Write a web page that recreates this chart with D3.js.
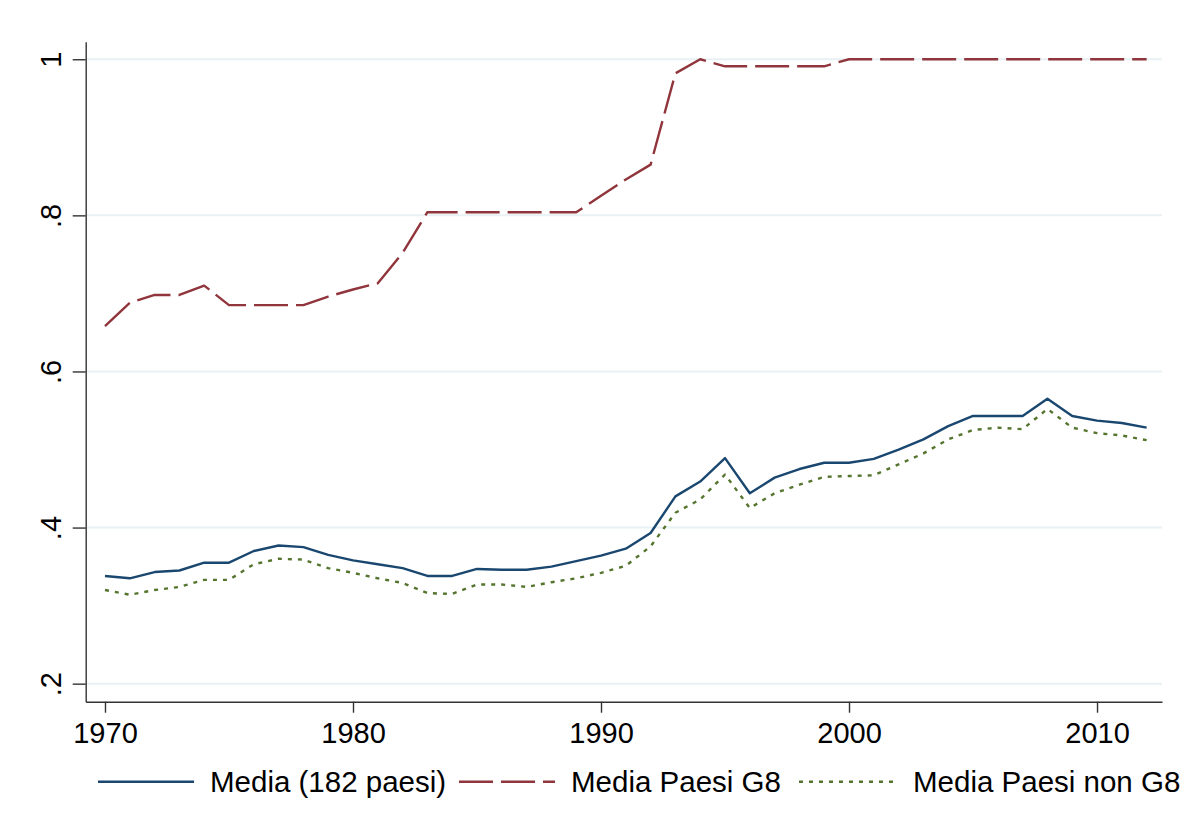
<!DOCTYPE html>
<html lang="it">
<head>
  <meta charset="UTF-8">
  <title>Media paesi G8 / non G8</title>
  <script src="https://d3js.org/d3.v7.min.js"></script>
  <style>
    body { margin: 0; background: #fff; }
    svg { display: block; font-family: "Liberation Sans", Arial, sans-serif; }
  </style>
</head>
<body>
  <div id="chart"></div>
  <script>
    // years and series
    const years = d3.range(1970, 2013);
    const mediaAll = [
      0.338, 0.335, 0.343, 0.345, 0.355, 0.355, 0.370, 0.377, 0.375, 0.365,
      0.358, 0.353, 0.348, 0.338, 0.338, 0.347, 0.346, 0.346, 0.350, 0.357,
      0.364, 0.373, 0.393, 0.440, 0.459, 0.489, 0.444, 0.464, 0.475, 0.483,
      0.483, 0.488, 0.500, 0.513, 0.530, 0.543, 0.543, 0.543, 0.565, 0.543,
      0.537, 0.534, 0.528
    ];
    const mediaG8 = [
      0.658, 0.688, 0.698, 0.698, 0.710, 0.685, 0.685, 0.685, 0.685, 0.696,
      0.705, 0.713, 0.752, 0.804, 0.804, 0.804, 0.804, 0.804, 0.804, 0.804,
      0.825, 0.846, 0.865, 0.982, 1.000, 0.991, 0.991, 0.991, 0.991, 0.991,
      1.000, 1.000, 1.000, 1.000, 1.000, 1.000, 1.000, 1.000, 1.000, 1.000,
      1.000, 1.000, 1.000
    ];
    const mediaNonG8 = [
      0.320, 0.314, 0.320, 0.324, 0.333, 0.333, 0.353, 0.360, 0.359, 0.348,
      0.342, 0.335, 0.329, 0.316, 0.315, 0.327, 0.327, 0.324, 0.330, 0.335,
      0.342, 0.351, 0.376, 0.419, 0.436, 0.468, 0.425, 0.444, 0.455, 0.465,
      0.466, 0.467, 0.481, 0.495, 0.513, 0.525, 0.528, 0.526, 0.552, 0.528,
      0.521, 0.518, 0.512
    ];
    const xTicks = [1970, 1980, 1990, 2000, 2010];
    const yTicks = [0.2, 0.4, 0.6, 0.8, 1];
    const seriesNames = ["Media (182 paesi)", "Media Paesi G8", "Media Paesi non G8"];

    const width = 1187, height = 832;
    const series = [
      { name: seriesNames[0], values: mediaAll, color: "#1a476f", dash: null },
      { name: seriesNames[1], values: mediaG8, color: "#90353b", dash: "34,8" },
      { name: seriesNames[2], values: mediaNonG8, color: "#55752f", dash: "4,6" }
    ];

    const svg = d3.select("#chart").append("svg")
      .attr("width", width).attr("height", height);

    // plot region: left 85.7 .. right 1162, top 41.7 .. bottom 701.7
    const x = d3.scaleLinear().domain([1969.222, 2012.62]).range([85.7, 1162]);
    const y = d3.scaleLinear().domain([0.1769, 1.0225]).range([701.7, 41.7]);

    // grid
    svg.append("g").selectAll("line").data(yTicks).join("line")
      .attr("x1", x.range()[0]).attr("x2", x.range()[1])
      .attr("y1", d => y(d)).attr("y2", d => y(d))
      .attr("stroke", "#e8f1f3").attr("stroke-width", 2);

    // y axis
    const yAxis = svg.append("g")
      .attr("transform", `translate(${x.range()[0]},0)`)
      .call(d3.axisLeft(y).tickValues(yTicks).tickSizeOuter(0).tickSizeInner(13)
        .tickFormat(d => d === 1 ? "1" : String(d).replace("0.", ".")));
    yAxis.selectAll("path, line").attr("stroke", "#333").attr("stroke-width", 1.4);
    yAxis.selectAll("text")
      .attr("x", null).attr("dy", null)
      .attr("transform", "translate(-25,0) rotate(-90)")
      .attr("text-anchor", "middle")
      .attr("fill", "#000")
      .style("font-size", "29px");

    // x axis
    const xAxis = svg.append("g")
      .attr("transform", `translate(0,${y.range()[0]})`)
      .call(d3.axisBottom(x).tickValues(xTicks).tickSizeOuter(0).tickSizeInner(11)
        .tickFormat(d3.format("d")));
    xAxis.selectAll("path, line").attr("stroke", "#333").attr("stroke-width", 1.4);
    xAxis.selectAll("text")
      .attr("y", 41.8).attr("dy", null)
      .attr("fill", "#000")
      .style("font-size", "29px");

    // lines
    const line = d3.line().x((d, i) => x(years[i])).y(d => y(d));
    svg.append("g").selectAll("path").data(series).join("path")
      .attr("d", d => line(d.values))
      .attr("fill", "none")
      .attr("stroke", d => d.color)
      .attr("stroke-width", 2.4)
      .attr("stroke-dasharray", d => d.dash)
      .attr("stroke-linejoin", "round");

    // legend
    const legendPos = [
      { x1: 98, x2: 194, tx: 210 },
      { x1: 459, x2: 555, tx: 571 },
      { x1: 799, x2: 898, tx: 913 }
    ];
    const legendY = 781.7;
    const legend = svg.append("g").selectAll("g").data(series).join("g");
    legend.append("line")
      .attr("x1", (d, i) => legendPos[i].x1).attr("x2", (d, i) => legendPos[i].x2)
      .attr("y1", legendY).attr("y2", legendY)
      .attr("stroke", d => d.color)
      .attr("stroke-width", 2.4)
      .attr("stroke-dasharray", d => d.dash);
    legend.append("text")
      .attr("x", (d, i) => legendPos[i].tx)
      .attr("y", 792)
      .attr("fill", "#000")
      .style("font-size", "29.5px")
      .text(d => d.name);
  </script>
</body>
</html>
